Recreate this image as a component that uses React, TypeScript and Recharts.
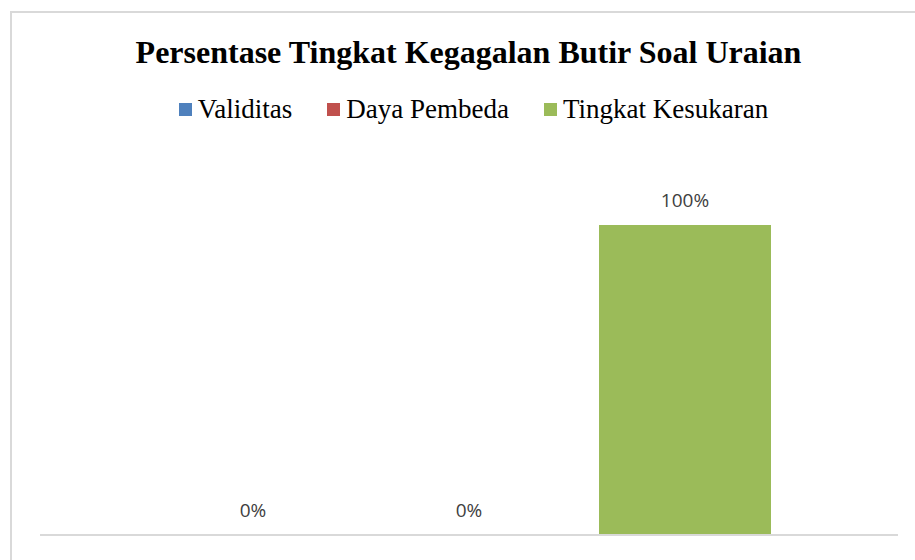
import { BarChart, Bar, XAxis, YAxis, LabelList } from 'recharts';

// data
const categories = [''];
const seriesNames = ['Validitas', 'Daya Pembeda', 'Tingkat Kesukaran'];
const seriesKeys = ['validitas', 'dayaPembeda', 'tingkatKesukaran'];
const seriesColors = ['#4F81BD', '#C0504D', '#9BBB59'];
const validitas = [0];
const dayaPembeda = [0];
const tingkatKesukaran = [100];

const data = categories.map((name, i) => ({
  name,
  validitas: validitas[i],
  dayaPembeda: dayaPembeda[i],
  tingkatKesukaran: tingkatKesukaran[i],
}));

export default function App() {
  return (
    <div style={{ position: 'absolute', left: 0, top: 0, width: 915, height: 560, overflow: 'hidden', background: '#fff' }}>
      {/* chart frame (right/bottom edges fall outside the picture) */}
      <div
        style={{
          position: 'absolute',
          left: 10,
          top: 11,
          width: 940,
          height: 600,
          border: '2px solid #d9d9d9',
          boxSizing: 'border-box',
        }}
      />

      <div
        style={{
          position: 'absolute',
          left: 0,
          top: 36,
          width: 937,
          textAlign: 'center',
          fontFamily: '"Liberation Serif", "Times New Roman", serif',
          fontWeight: 'bold',
          fontSize: 32,
          lineHeight: '32px',
          color: '#000',
        }}
      >
        Persentase Tingkat Kegagalan Butir Soal Uraian
      </div>

      {/* legend */}
      <div
        style={{
          position: 'absolute',
          left: 0,
          top: 96,
          width: 947,
          display: 'flex',
          justifyContent: 'center',
          gap: 35,
          fontFamily: '"Liberation Serif", "Times New Roman", serif',
          fontSize: 27,
          lineHeight: '27px',
          color: '#000',
        }}
      >
        {seriesNames.map((name, i) => (
          <div key={name} style={{ display: 'flex', alignItems: 'center' }}>
            <span style={{ display: 'inline-block', width: 13, height: 13, background: seriesColors[i], marginRight: 6 }} />
            <span>{name}</span>
          </div>
        ))}
      </div>

      <div style={{ position: 'absolute', left: 0, top: 0 }}>
        <BarChart
          width={915}
          height={560}
          data={data}
          margin={{ top: 225, right: 17, bottom: 0, left: 40 }}
          barSize={172}
          barGap={44}
        >
          <YAxis hide domain={[0, 100]} width={0} />
          {seriesKeys.map((key, i) => (
            <Bar
              key={key}
              dataKey={key}
              name={seriesNames[i]}
              fill={seriesColors[i]}
              minPointSize={0.001}
              isAnimationActive={false}
            >
              <LabelList
                dataKey={key}
                position="top"
                offset={18}
                formatter={(v: any) => `${v}%`}
                style={{ fontFamily: '"Open Sans", sans-serif', fontSize: 19, fill: '#404040' }}
              />
            </Bar>
          ))}
          <XAxis
            dataKey="name"
            height={25}
            tick={false}
            tickLine={false}
            axisLine={{ stroke: '#d9d9d9', strokeWidth: 2 }}
          />
        </BarChart>
      </div>
    </div>
  );
}
